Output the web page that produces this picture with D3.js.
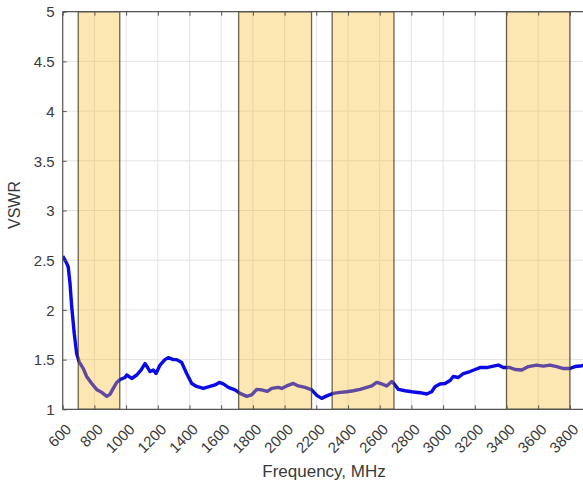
<!DOCTYPE html>
<html>
<head>
<meta charset="utf-8">
<script src="https://cdn.jsdelivr.net/npm/d3@7"></script>
<style>
html,body{margin:0;padding:0;background:#fff;overflow:hidden;}
svg{display:block;}
text{font-family:"Liberation Sans",Arial,sans-serif;}
</style>
</head>
<body>
<svg id="chart" width="620" height="485"></svg>
<script>
// ---- data ----
const freq = [600,615,625,635,646,657,673,688,703,730,751,783,814,846,878,898,919,941,962,993,1004,1035,1067,1094,1119,1136,1151,1172,1189,1214,1245,1266,1298,1319,1351,1382,1414,1445,1487,1529,1561,1588,1613,1645,1687,1719,1761,1792,1824,1855,1891,1919,1960,1982,2013,2055,2087,2129,2171,2203,2234,2266,2307,2350,2392,2434,2476,2518,2550,2581,2613,2644,2676,2697,2718,2760,2802,2854,2897,2928,2949,2980,3012,3044,3064,3096,3128,3170,3202,3233,3275,3317,3348,3380,3422,3454,3496,3538,3590,3632,3674,3717,3759,3801,3832,3864,3900];
const vswr = [2.54,2.50,2.47,2.43,2.27,2.03,1.76,1.56,1.48,1.41,1.33,1.26,1.20,1.17,1.13,1.15,1.21,1.27,1.30,1.32,1.345,1.31,1.345,1.395,1.46,1.42,1.38,1.395,1.36,1.445,1.50,1.52,1.50,1.50,1.47,1.36,1.26,1.23,1.21,1.23,1.245,1.27,1.255,1.22,1.195,1.16,1.13,1.145,1.20,1.195,1.18,1.21,1.22,1.21,1.235,1.26,1.235,1.22,1.195,1.14,1.11,1.135,1.16,1.17,1.177,1.187,1.20,1.22,1.235,1.27,1.255,1.235,1.28,1.245,1.20,1.187,1.177,1.167,1.154,1.177,1.227,1.255,1.26,1.29,1.33,1.32,1.36,1.38,1.40,1.42,1.42,1.435,1.445,1.42,1.42,1.40,1.395,1.43,1.445,1.435,1.445,1.43,1.41,1.41,1.43,1.435,1.445];
const bandStart = [698,1710,2300,3400];
const bandEnd   = [960,2170,2690,3800];
const xTicks = [600,800,1000,1200,1400,1600,1800,2000,2200,2400,2600,2800,3000,3200,3400,3600,3800];
const yTicks = [1,1.5,2,2.5,3,3.5,4,4.5,5];
const xLabel = "Frequency, MHz";
const yLabel = "VSWR";

// ---- layout ----
const L = 62.7, T = 11.7, B = 409.3;
const x = d3.scaleLinear().domain([600,4000]).range([L, L + 3400*0.1585]);
const y = d3.scaleLinear().domain([1,5]).range([B, T]);
const R = x.range()[1];

const svg = d3.select("#chart");
svg.append("defs").append("clipPath").attr("id","clip")
  .append("rect").attr("x",L).attr("y",T).attr("width",R-L).attr("height",B-T);

// grid
const grid = svg.append("g");
grid.selectAll(".gx").data(xTicks).join("line")
  .attr("x1",d=>x(d)).attr("x2",d=>x(d)).attr("y1",T).attr("y2",B)
  .attr("stroke","#e3e3e3").attr("stroke-width",1);
grid.selectAll(".gy").data(yTicks).join("line")
  .attr("x1",L).attr("x2",R).attr("y1",d=>y(d)).attr("y2",d=>y(d))
  .attr("stroke","#e3e3e3").attr("stroke-width",1);

// line
const pts = freq.map((f,i)=>[f,vswr[i]]);
svg.append("path").datum(pts)
  .attr("clip-path","url(#clip)")
  .attr("fill","none").attr("stroke","#0a0ae6").attr("stroke-width",3.4)
  .attr("stroke-linejoin","round")
  .attr("d", d3.line().x(d=>x(d[0])).y(d=>y(d[1])));

// bands (semi-transparent, on top of line)
const bands = bandStart.map((s,i)=>[s,bandEnd[i]]);
svg.selectAll(".band").data(bands).join("rect")
  .attr("x",d=>x(d[0])).attr("y",T)
  .attr("width",d=>x(d[1])-x(d[0])).attr("height",B-T)
  .attr("fill","rgb(246,186,40)").attr("fill-opacity",0.36)
  .attr("stroke","#3a3320").attr("stroke-opacity",0.75).attr("stroke-width",1.3);

// axes
const axisCol = "#555";
const xb = svg.append("g").attr("transform",`translate(0,${B})`)
  .call(d3.axisBottom(x).tickValues(xTicks).tickSize(-4).tickFormat(d3.format("d")));
const xt = svg.append("g").attr("transform",`translate(0,${T})`)
  .call(d3.axisTop(x).tickValues(xTicks).tickSize(-4).tickFormat(""));
const yl = svg.append("g").attr("transform",`translate(${L},0)`)
  .call(d3.axisLeft(y).tickValues(yTicks).tickSize(-4).tickFormat(d3.format("")));
[xb,xt,yl].forEach(g=>{
  g.select(".domain").attr("stroke",axisCol).attr("stroke-width",1.2);
  g.selectAll(".tick line").attr("stroke",axisCol);
});
xb.select(".domain").attr("d",`M${L},0H${R}`);
xt.select(".domain").attr("d",`M${L},0H${R}`);
yl.select(".domain").attr("d",`M0,${T}V${B}`);

xb.selectAll(".tick text")
  .attr("font-size",15).attr("fill","#3a3a3a")
  .attr("text-anchor","end")
  .attr("transform","translate(9,21) rotate(-45)")
  .attr("y",0).attr("x",0).attr("dy","0");
yl.selectAll(".tick text")
  .attr("font-size",15).attr("fill","#3a3a3a").attr("x",-8).attr("dy","0.35em");

// labels
svg.append("text").attr("x",324).attr("y",477).attr("text-anchor","middle")
  .attr("font-size",17).attr("fill","#3a3a3a").text(xLabel);
svg.append("text").attr("transform","translate(20,205) rotate(-90)")
  .attr("text-anchor","middle").attr("font-size",16).attr("fill","#3a3a3a").text(yLabel);
</script>
</body>
</html>
